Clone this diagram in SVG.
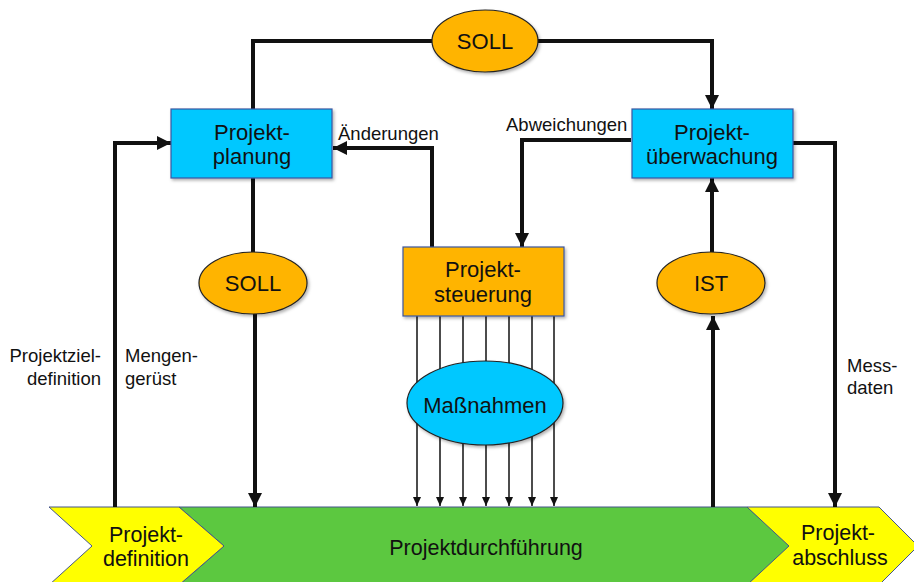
<svg xmlns="http://www.w3.org/2000/svg" width="914" height="582" viewBox="0 0 914 582">
<defs>
<marker id="ah" markerUnits="userSpaceOnUse" markerWidth="14" markerHeight="14" viewBox="0 0 14 14" refX="14" refY="7" orient="auto">
<path d="M0,0 L14,7 L0,14 Z" fill="#111"/>
</marker>
<marker id="ahs" markerUnits="userSpaceOnUse" markerWidth="9" markerHeight="8" viewBox="0 0 9 8" refX="9" refY="4" orient="auto">
<path d="M0,0 L9,4 L0,8 Z" fill="#111"/>
</marker>
<filter id="sh" x="-10%" y="-10%" width="130%" height="130%">
<feDropShadow dx="1.5" dy="2" stdDeviation="1.5" flood-color="#000" flood-opacity="0.3"/>
</filter>
</defs>
<style>
text{font-family:"Liberation Sans",Arial,sans-serif;fill:#111}
.big{font-size:22px;text-anchor:middle}
.bt{font-size:21.5px;text-anchor:middle}
.lbl{font-size:18.5px}
.box{stroke:#3a55a0;stroke-width:1.2;filter:url(#sh)}
.blue{fill:#00C8FF}
.orange{fill:#FFB400}
.ell{stroke:#222;stroke-width:1.2;filter:url(#sh)}
.thick{fill:none;stroke:#111;stroke-width:4;marker-end:url(#ah)}
.thickn{fill:none;stroke:#111;stroke-width:4}
.thin{fill:none;stroke:#111;stroke-width:1.5;marker-end:url(#ahs)}
.chev{stroke:#44558a;stroke-width:1}
</style>

<g id="band">
<polygon class="chev" points="747,507 879,507 918,546 879,585 747,585 786,546" fill="#FFFF00"/>
<polygon class="chev" points="179,507 747,507 789,546 747,585 179,585 224,546" fill="#5CC840"/>
<polygon class="chev" points="49,507 179,507 224,546 179,585 49,585 92,546" fill="#FFFF00"/>
</g>

<g id="connectors">
<path class="thickn" d="M253,109 V41 H432"/>
<path class="thick" d="M538,41 H712 V109"/>
<path class="thick" d="M115,507 V143 H171"/>
<path class="thickn" d="M253,178 V252"/>
<path class="thick" d="M255,314 V507"/>
<path class="thick" d="M432,247 V148 H333"/>
<path class="thick" d="M631,140 H522 V247"/>
<path class="thick" d="M712,252 V178"/>
<path class="thick" d="M713,507 V316"/>
<path class="thick" d="M793,143 H835 V507"/>
<path class="thin" d="M417,316 V506"/>
<path class="thin" d="M440,316 V506"/>
<path class="thin" d="M463,316 V506"/>
<path class="thin" d="M486,316 V506"/>
<path class="thin" d="M509,316 V506"/>
<path class="thin" d="M532,316 V506"/>
<path class="thin" d="M554,316 V506"/>
</g>

<g id="labels">
<text class="lbl" x="338" y="140">Änderungen</text>
<text class="lbl" x="506" y="131">Abweichungen</text>
<text class="lbl" x="101" y="362" text-anchor="end">Projektziel-</text>
<text class="lbl" x="101" y="385" text-anchor="end">definition</text>
<text class="lbl" x="125" y="362">Mengen-</text>
<text class="lbl" x="125" y="385">gerüst</text>
<text class="lbl" x="847" y="372">Mess-</text>
<text class="lbl" x="847" y="394">daten</text>
</g>

<g id="soll-top">
<ellipse class="ell orange" cx="485" cy="41" rx="53" ry="31"/>
<text class="big" x="485" y="49">SOLL</text>
</g>
<g id="projektplanung">
<rect class="box blue" x="171" y="109" width="161" height="69"/>
<text class="big" x="252" y="140">Projekt-</text>
<text class="big" x="252" y="164">planung</text>
</g>
<g id="projektueberwachung">
<rect class="box blue" x="632" y="109" width="161" height="69"/>
<text class="big" x="712" y="140">Projekt-</text>
<text class="big" x="712" y="164">überwachung</text>
</g>
<g id="projektsteuerung">
<rect class="box orange" x="403" y="247" width="161" height="69"/>
<text class="big" x="483" y="277">Projekt-</text>
<text class="big" x="483" y="302">steuerung</text>
</g>
<g id="soll-left">
<ellipse class="ell orange" cx="253" cy="283" rx="54" ry="31"/>
<text class="big" x="253" y="291">SOLL</text>
</g>
<g id="ist">
<ellipse class="ell orange" cx="711" cy="283" rx="54" ry="31"/>
<text class="big" x="711" y="291">IST</text>
</g>
<g id="massnahmen">
<ellipse class="ell blue" cx="485" cy="403" rx="78" ry="42"/>
<text class="big" x="485" y="413">Maßnahmen</text>
</g>

<g id="band-text">
<text class="bt" x="146" y="542">Projekt-</text>
<text class="bt" x="146" y="566">definition</text>
<text class="bt" x="486" y="555">Projektdurchführung</text>
<text class="bt" x="838" y="540">Projekt-</text>
<text class="bt" x="840" y="565">abschluss</text>
</g>
</svg>
